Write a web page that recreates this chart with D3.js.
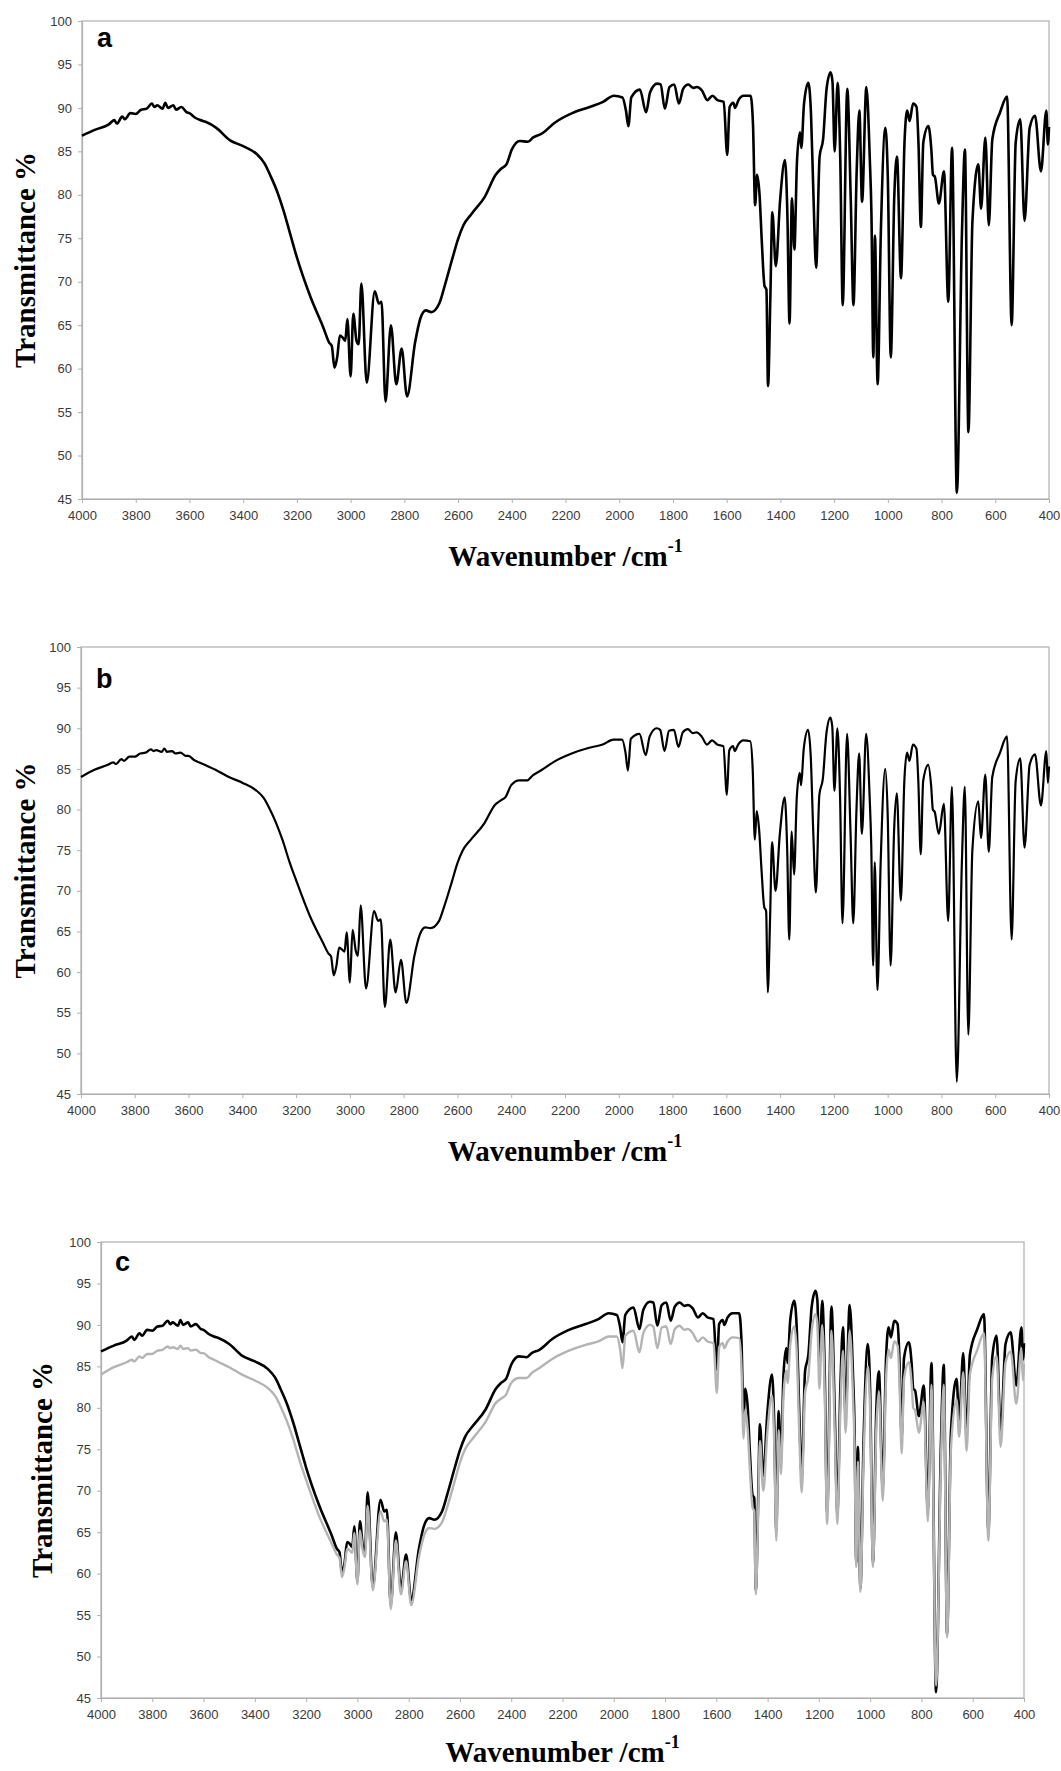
<!DOCTYPE html>
<html>
<head>
<meta charset="utf-8">
<script src="https://cdn.jsdelivr.net/npm/d3@7"></script>
<style>
  html, body { margin: 0; padding: 0; background: #fff; }
  svg { display: block; }
</style>
</head>
<body>
<svg id="chart" width="1061" height="1771"></svg>
<script>
// ---- Data ----
const wavenumbers = [4000,3950,3900,3880,3870,3850,3840,3820,3800,3780,3760,3740,3730,3720,3700,3690,3680,3660,3650,3630,3610,3600,3580,3560,3540,3500,3450,3400,3350,3320,3300,3275,3250,3225,3200,3150,3100,3080,3070,3060,3050,3040,3030,3020,3012,3000,2990,2978,2970,2960,2940,2910,2895,2885,2870,2850,2830,2810,2790,2760,2740,2720,2700,2670,2650,2620,2600,2580,2550,2500,2460,2440,2420,2400,2370,2340,2320,2290,2240,2175,2110,2060,2020,1988,1975,1966,1955,1923,1900,1885,1859,1846,1830,1813,1795,1778,1762,1743,1725,1711,1692,1672,1653,1634,1611,1598,1589,1575,1569,1556,1537,1511,1502,1494,1487,1478,1469,1459,1452,1446,1437,1430,1417,1401,1383,1374,1366,1357,1348,1338,1327,1322,1312,1296,1286,1277,1267,1254,1241,1228,1213,1206,1198,1187,1177,1168,1151,1138,1128,1116,1106,1096,1080,1067,1061,1054,1048,1038,1026,1009,1000,989,976,966,951,938,928,919,906,893,886,877,868,849,838,832,825,810,791,775,761,743,724,713,700,685,663,653,637,624,611,582,556,539,524,507,491,472,452,430,410,404,400];

// spectrum a (black)
const transA = [86.8,87.5,88.1,88.6,88.2,89.0,88.7,89.4,89.3,89.8,89.9,90.5,90.1,90.3,89.9,90.6,90.0,90.3,89.8,90.1,89.5,89.4,88.9,88.6,88.4,87.7,86.3,85.6,84.7,83.6,82.3,80.5,78.2,75.5,72.8,68.3,64.6,63.0,62.6,60.1,61.3,63.8,63.6,63.2,65.7,59.1,66.3,63.2,62.8,69.8,58.4,68.9,67.5,67.7,56.2,65.0,58.2,62.3,56.8,63.0,65.8,66.7,66.5,67.5,69.5,72.8,74.9,76.5,77.8,79.8,82.3,83.0,83.5,85.2,86.2,86.1,86.6,87.0,88.3,89.4,90.1,90.7,91.4,91.2,89.7,87.9,91.2,92.1,89.5,91.8,92.8,92.7,89.9,92.4,92.7,90.5,92.2,92.7,92.3,92.4,92.0,90.9,91.4,90.9,90.7,84.6,90.1,90.6,90.0,90.9,91.4,91.4,88.1,78.8,82.3,80.2,74.5,69.5,69.1,58.0,68.7,78.0,71.8,79.4,84.0,77.8,65.2,79.6,73.7,84.0,87.2,85.4,90.5,92.9,89.3,80.0,71.6,84.4,86.4,92.2,94.1,93.0,85.0,92.9,84.0,67.3,92.2,79.4,67.3,82.7,89.7,79.2,92.4,84.0,77.8,61.3,75.3,58.2,75.7,87.7,81.9,61.3,79.8,84.4,70.4,86.0,89.7,88.5,90.5,90.1,86.0,76.3,86.0,87.9,85.2,82.3,82.1,79.0,82.7,67.7,85.4,45.7,75.7,85.2,52.7,77.0,83.5,78.4,86.6,76.5,86.4,89.5,91.3,65.0,86.0,88.7,77.0,87.7,89.1,82.7,89.7,85.8,87.8];

// spectrum b (black in panel b, grey in panel c)
const transB = [84.0,84.9,85.5,85.8,85.6,86.2,86.0,86.5,86.5,86.9,87.0,87.4,87.2,87.3,87.1,87.5,87.1,87.2,86.9,87.0,86.6,86.6,86.1,85.8,85.5,84.9,84.0,83.3,82.4,81.4,80.2,78.4,76.2,73.6,71.3,67.0,63.6,62.3,61.9,59.6,60.8,63.0,62.8,62.5,64.9,58.7,65.2,62.6,62.0,68.2,58.0,67.5,66.3,66.5,55.7,64.0,57.5,61.5,56.2,62.0,64.6,65.5,65.4,66.2,68.0,71.2,73.4,75.0,76.3,78.3,80.6,81.1,81.6,83.0,83.6,83.6,84.2,84.8,85.9,86.9,87.6,88.0,88.6,88.6,87.0,84.8,88.7,89.3,86.7,89.0,90.0,89.8,87.2,89.7,89.8,87.7,89.5,89.9,89.4,89.5,89.0,88.0,88.5,88.0,87.8,81.8,87.3,87.8,87.2,88.0,88.5,88.4,85.0,76.3,79.8,77.5,72.5,68.0,67.5,57.5,67.0,76.0,70.0,77.0,81.5,75.5,64.0,77.3,72.0,81.5,84.5,83.0,87.5,89.8,86.5,77.5,69.8,81.8,83.8,89.3,91.3,90.2,82.3,90.0,81.5,66.0,89.3,77.0,66.0,80.0,86.9,77.0,89.3,81.5,75.5,60.8,73.5,57.8,73.5,85.0,79.5,60.8,77.5,82.0,68.8,83.5,87.0,86.0,88.0,87.5,83.5,74.5,83.5,85.5,82.8,80.0,79.7,77.0,80.7,66.3,82.8,46.5,73.5,82.8,52.3,75.0,81.0,76.5,84.3,74.8,84.0,87.0,89.0,64.0,83.5,86.3,75.3,85.5,86.8,80.5,87.2,83.3,85.3];

const xTicks = [4000,3800,3600,3400,3200,3000,2800,2600,2400,2200,2000,1800,1600,1400,1200,1000,800,600,400];
const yTicks = [45,50,55,60,65,70,75,80,85,90,95,100];
const panelLetters = ["a","b","c"];
const xTitle = "Wavenumber /cm";
const xTitleSup = "-1";
const yTitle = "Transmittance %";

// ---- Layout ----
const panels = [
  {letter: panelLetters[0], left: 82,  right: 1049, top: 21,   bottom: 499,
   letterX: 97, letterY: 47, yTitleX: 25, xTitleY: 566,
   series: [{values: transA, color: "#000", width: 2.6}]},
  {letter: panelLetters[1], left: 81,  right: 1049, top: 647,  bottom: 1094,
   letterX: 96, letterY: 688, yTitleX: 25, xTitleY: 1161,
   series: [{values: transB, color: "#000", width: 2.2}]},
  {letter: panelLetters[2], left: 101, right: 1024, top: 1242, bottom: 1698,
   letterX: 115, letterY: 1271, yTitleX: 42, xTitleY: 1762,
   series: [{values: transA, color: "#000", width: 2.6},
            {values: transB, color: "#b4b4b4", width: 2.4}]}
];

const svg = d3.select("#chart");

panels.forEach(p => {
  const x = d3.scaleLinear().domain([4000, 400]).range([p.left, p.right]);
  const y = d3.scaleLinear().domain([45, 100]).range([p.bottom, p.top]);
  const g = svg.append("g");

  // frame
  g.append("rect")
    .attr("x", p.left).attr("y", p.top)
    .attr("width", p.right - p.left).attr("height", p.bottom - p.top)
    .attr("fill", "none").attr("stroke", "#b0b0b0").attr("stroke-width", 1.2);

  // x axis
  const xa = g.append("g").attr("transform", `translate(0,${p.bottom})`)
    .call(d3.axisBottom(x).tickValues(xTicks).tickSize(4).tickSizeOuter(0).tickPadding(8).tickFormat(d3.format("d")));
  // y axis
  const ya = g.append("g").attr("transform", `translate(${p.left},0)`)
    .call(d3.axisLeft(y).tickValues(yTicks).tickSize(4).tickSizeOuter(0).tickPadding(6).tickFormat(d3.format("d")));
  [xa, ya].forEach(a => {
    a.select(".domain").attr("stroke", "#b0b0b0").attr("stroke-width", 1.2);
    a.selectAll(".tick line").attr("stroke", "#b0b0b0");
    a.selectAll(".tick text").attr("fill", "#3a3a3a")
      .style("font-family", "Arial, 'Liberation Sans', sans-serif").style("font-size", "13px");
  });

  // series
  const line = d3.line()
    .x((d, i) => x(wavenumbers[i]))
    .y(d => y(d))
    .curve(d3.curveMonotoneX);
  p.series.forEach(s => {
    g.append("path")
      .datum(s.values)
      .attr("d", line)
      .attr("fill", "none")
      .attr("stroke", s.color)
      .attr("stroke-width", s.width)
      .attr("stroke-linejoin", "round");
  });

  // panel letter
  g.append("text")
    .attr("x", p.letterX).attr("y", p.letterY)
    .style("font-family", "Arial, 'Liberation Sans', sans-serif")
    .style("font-weight", "bold").style("font-size", "27px")
    .text(p.letter);

  // y title
  const cy = (p.top + p.bottom) / 2;
  g.append("text")
    .attr("transform", `translate(${p.yTitleX + 10},${cy}) rotate(-90)`)
    .attr("text-anchor", "middle")
    .style("font-family", "'Times New Roman', 'Liberation Serif', serif")
    .style("font-weight", "bold").style("font-size", "29px")
    .text(yTitle);

  // x title
  const cx = (p.left + p.right) / 2;
  const xt = g.append("text")
    .attr("x", cx).attr("y", p.xTitleY)
    .attr("text-anchor", "middle")
    .style("font-family", "'Times New Roman', 'Liberation Serif', serif")
    .style("font-weight", "bold").style("font-size", "29px");
  xt.append("tspan").text(xTitle);
  xt.append("tspan").attr("dy", -14).style("font-size", "18px").text(xTitleSup);
});
</script>
</body>
</html>
